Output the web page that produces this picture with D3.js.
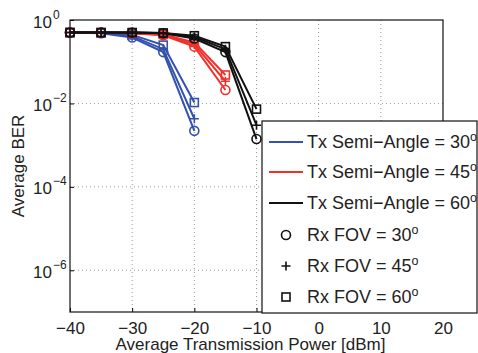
<!DOCTYPE html>
<html>
<head>
<meta charset="utf-8">
<script src="https://cdn.jsdelivr.net/npm/d3@7"></script>
<style>
  body { margin: 0; background: #fff; }
  svg { display: block; font-family: "Liberation Sans", Arial, sans-serif; }
</style>
</head>
<body>
<svg id="chart"></svg>
<script>
const width = 478;
const height = 353;

// axes box in page pixels
const margin = { top: 20, right: 35, bottom: 41, left: 70 };

// data
const powerTx30 = [-40, -35, -30, -25, -20];
const powerTx45 = [-40, -35, -30, -25, -20, -15];
const powerTx60 = [-40, -35, -30, -25, -20, -15, -10];

const berTx30Fov30 = [0.5, 0.48, 0.38, 0.17, 0.0022];
const berTx30Fov45 = [0.5, 0.49, 0.41, 0.2, 0.0043];
const berTx30Fov60 = [0.5, 0.49, 0.44, 0.25, 0.0105];
const berTx45Fov30 = [0.5, 0.5, 0.48, 0.43, 0.23, 0.021];
const berTx45Fov45 = [0.5, 0.5, 0.48, 0.44, 0.26, 0.034];
const berTx45Fov60 = [0.5, 0.5, 0.49, 0.45, 0.29, 0.048];
const berTx60Fov30 = [0.5, 0.5, 0.5, 0.48, 0.36, 0.17, 0.0014];
const berTx60Fov45 = [0.5, 0.5, 0.5, 0.49, 0.39, 0.2, 0.003];
const berTx60Fov60 = [0.5, 0.5, 0.5, 0.49, 0.42, 0.23, 0.0073];

const xTicks = [-40, -30, -20, -10, 0, 10, 20];
const yTickExps = [0, -2, -4, -6];
const txAngles = [30, 45, 60];
const rxFovs = [30, 45, 60];

const txColors = { 30: "#3352ae", 45: "#f2302a", 60: "#111111" };
const markerOf = { 30: "circle", 45: "plus", 60: "square" };

const series = [
  { tx: 30, fov: 30, x: powerTx30, y: berTx30Fov30 },
  { tx: 30, fov: 45, x: powerTx30, y: berTx30Fov45 },
  { tx: 30, fov: 60, x: powerTx30, y: berTx30Fov60 },
  { tx: 45, fov: 30, x: powerTx45, y: berTx45Fov30 },
  { tx: 45, fov: 45, x: powerTx45, y: berTx45Fov45 },
  { tx: 45, fov: 60, x: powerTx45, y: berTx45Fov60 },
  { tx: 60, fov: 30, x: powerTx60, y: berTx60Fov30 },
  { tx: 60, fov: 45, x: powerTx60, y: berTx60Fov45 },
  { tx: 60, fov: 60, x: powerTx60, y: berTx60Fov60 }
];

const svg = d3.select("#chart")
  .attr("width", width)
  .attr("height", height);

const innerWidth = width - margin.left - margin.right;
const innerHeight = height - margin.top - margin.bottom;

const graph = svg.append("g")
  .attr("transform", `translate(${margin.left}, ${margin.top})`);

const xScale = d3.scaleLinear().domain([-40, 20]).range([0, innerWidth]);
const yScale = d3.scaleLog().domain([1e-7, 1]).range([innerHeight, 0]);

// grid (dotted)
const grid = graph.append("g")
  .attr("stroke", "#9a9a9a")
  .attr("stroke-width", 1)
  .attr("stroke-dasharray", "1,3");

grid.selectAll(".gx")
  .data(xTicks.slice(1, -1))
  .enter().append("line")
  .attr("x1", d => xScale(d)).attr("x2", d => xScale(d))
  .attr("y1", 0).attr("y2", innerHeight);

grid.selectAll(".gy")
  .data(yTickExps.slice(1).map(e => Math.pow(10, e)))
  .enter().append("line")
  .attr("x1", 0).attr("x2", innerWidth)
  .attr("y1", d => yScale(d)).attr("y2", d => yScale(d));

// x axis
const xAxis = d3.axisBottom(xScale)
  .tickValues(xTicks)
  .tickSizeInner(-4)
  .tickSizeOuter(0)
  .tickPadding(10);

const gx = graph.append("g")
  .attr("transform", `translate(0, ${innerHeight})`)
  .call(xAxis);
gx.select(".domain").remove();
gx.selectAll("text")
  .attr("font-size", "17px")
  .attr("fill", "#222")
  .attr("font-family", "Liberation Sans, Arial, sans-serif");

// y axis, "10" + exponent drawn as two pieces
const yAxis = d3.axisLeft(yScale)
  .tickValues(yTickExps.map(e => Math.pow(10, e)))
  .tickSizeInner(-4)
  .tickSizeOuter(0)
  .tickFormat("");

const gy = graph.append("g").call(yAxis);
gy.select(".domain").remove();
gy.selectAll(".tick").each(function (d) {
  const t = d3.select(this);
  const e = Math.round(Math.log10(d));
  t.append("text")
    .attr("x", -18).attr("y", 7)
    .attr("text-anchor", "end")
    .attr("font-size", "17px")
    .attr("fill", "#222")
    .text("10");
  t.append("text")
    .attr("x", -17).attr("y", -2)
    .attr("text-anchor", "start")
    .attr("font-size", "12px")
    .attr("fill", "#222")
    .text(e === 0 ? "0" : "\u2212" + Math.abs(e));
});

// box
graph.append("rect")
  .attr("width", innerWidth)
  .attr("height", innerHeight)
  .attr("fill", "none")
  .attr("stroke", "#111")
  .attr("stroke-width", 1.2);

// markers
function drawMarker(g, kind, cx, cy, color) {
  if (kind === "circle") {
    g.append("circle").attr("cx", cx).attr("cy", cy).attr("r", 4.5)
      .attr("fill", "none").attr("stroke", color).attr("stroke-width", 1.6);
  } else if (kind === "plus") {
    g.append("path")
      .attr("d", `M${cx - 4.5},${cy}H${cx + 4.5}M${cx},${cy - 4.5}V${cy + 4.5}`)
      .attr("stroke", color).attr("stroke-width", 1.6);
  } else {
    g.append("rect").attr("x", cx - 4).attr("y", cy - 4)
      .attr("width", 8).attr("height", 8)
      .attr("fill", "none").attr("stroke", color).attr("stroke-width", 1.6);
  }
}

const line = d3.line()
  .x(d => xScale(d[0]))
  .y(d => yScale(d[1]));

const curves = graph.append("g");
series.forEach(s => {
  const pts = s.x.map((x, i) => [x, s.y[i]]);
  const color = txColors[s.tx];
  const g = curves.append("g");
  g.append("path")
    .attr("d", line(pts))
    .attr("fill", "none")
    .attr("stroke", color)
    .attr("stroke-width", 2);
  pts.forEach(p => drawMarker(g, markerOf[s.fov], xScale(p[0]), yScale(p[1]), color));
});

// axis labels
svg.append("text")
  .attr("x", margin.left + innerWidth / 2 - 6)
  .attr("y", 350)
  .attr("text-anchor", "middle")
  .attr("font-size", "17px")
  .attr("fill", "#222")
  .text("Average Transmission Power [dBm]");

svg.append("text")
  .attr("transform", "translate(24, 166) rotate(-90)")
  .attr("text-anchor", "middle")
  .attr("font-size", "17px")
  .attr("fill", "#222")
  .text("Average BER");

// legend (runs past the right edge of the axes, as in the original)
const legend = svg.append("g").attr("transform", "translate(262, 121)");
legend.append("rect")
  .attr("width", 215).attr("height", 192)
  .attr("fill", "#fff")
  .attr("stroke", "#111")
  .attr("stroke-width", 1.2);

const rowY = [21, 51, 82, 114, 145, 176];

function legendLabel(y, main, sup) {
  const t = legend.append("text")
    .attr("x", 45).attr("y", y + 6)
    .attr("font-size", "18px")
    .attr("fill", "#222");
  t.append("tspan").text(main);
  t.append("tspan").attr("dy", "-0.55em").attr("font-size", "12.5px").text(sup);
}

txAngles.forEach((a, i) => {
  legend.append("line")
    .attr("x1", 7).attr("x2", 41)
    .attr("y1", rowY[i]).attr("y2", rowY[i])
    .attr("stroke", txColors[a]).attr("stroke-width", 2);
  legendLabel(rowY[i], `Tx Semi\u2212Angle = ${a}`, "o");
});

rxFovs.forEach((f, i) => {
  const y = rowY[i + 3];
  drawMarker(legend, markerOf[f], 24, y, "#111");
  legendLabel(y, `Rx FOV = ${f}`, "o");
});
</script>
</body>
</html>
